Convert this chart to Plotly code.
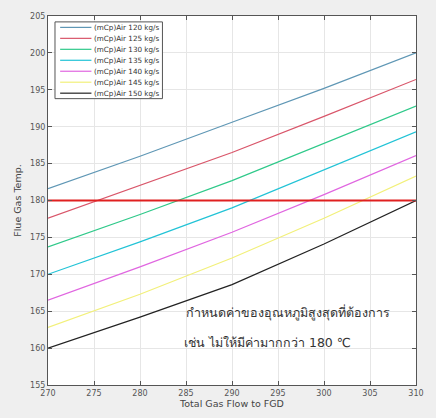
import plotly.graph_objects as go

flow = [270, 280, 290, 300, 310]
labels = ["(mCp)Air 120 kg/s", "(mCp)Air 125 kg/s", "(mCp)Air 130 kg/s",
          "(mCp)Air 135 kg/s", "(mCp)Air 140 kg/s", "(mCp)Air 145 kg/s",
          "(mCp)Air 150 kg/s"]
temps = [
    [181.6, 186.0, 190.6, 195.2, 200.0],
    [177.6, 182.0, 186.5, 191.4, 196.4],
    [173.7, 178.1, 182.7, 187.7, 192.8],
    [170.0, 174.4, 179.0, 184.1, 189.3],
    [166.5, 171.0, 175.7, 180.8, 186.1],
    [162.8, 167.3, 172.2, 177.6, 183.3],
    [160.0, 164.2, 168.6, 174.1, 180.0],
]
colors = ["#5f97b5", "#d9566a", "#2fc98a", "#22c3d6", "#e066e0", "#f2f07a", "#222222"]
limit = [180, 180]
limit_x = [270, 310]
xticks = list(range(270, 311, 5))
yticks = list(range(155, 206, 5))

fig = go.Figure()
for lab, t, c in zip(labels, temps, colors):
    fig.add_trace(go.Scatter(x=flow, y=t, mode="lines", name=lab, showlegend=False,
                             line=dict(color=c, width=1.2)))
fig.add_trace(go.Scatter(x=limit_x, y=limit, mode="lines", showlegend=False,
                         line=dict(color="#e02020", width=1.8)))

# compact MATLAB-like legend
lx0, lx1, ly0, ly1 = 0.019, 0.311, 0.776, 0.984
fig.add_shape(type="rect", xref="paper", yref="paper", x0=lx0, x1=lx1, y0=ly0, y1=ly1,
              fillcolor="white", line=dict(color="#555555", width=1), layer="above")
step = (ly1 - ly0) / len(labels)
for i, (lab, c) in enumerate(zip(labels, colors)):
    yy = ly1 - step * (i + 0.5)
    fig.add_shape(type="line", xref="paper", yref="paper", x0=0.033, x1=0.118,
                  y0=yy, y1=yy, line=dict(color=c, width=1.2), layer="above")
    fig.add_annotation(x=0.12, y=yy, xref="paper", yref="paper", xanchor="left",
                       yanchor="middle", showarrow=False, text=lab,
                       font=dict(size=7.2, color="#333333"))

fig.add_annotation(x=0.37, y=0.197, xref="paper", yref="paper", xanchor="left",
                   yanchor="middle", showarrow=False,
                   text="กำหนดค่าของอุณหภูมิสูงสุดที่ต้องการ",
                   font=dict(size=12.5, color="#333333"))
fig.add_annotation(x=0.365, y=0.114, xref="paper", yref="paper", xanchor="left",
                   yanchor="middle", showarrow=False,
                   text="เช่น ไม่ให้มีค่ามากกว่า 180 ℃",
                   font=dict(size=12.5, color="#333333"))

axis_common = dict(showgrid=True, gridcolor="#e6e6e6", gridwidth=1,
                   showline=True, linecolor="#555555", linewidth=1, mirror="ticks",
                   ticks="inside", ticklen=4, tickcolor="#555555",
                   tickfont=dict(size=8, color="#555555"), zeroline=False)

fig.update_layout(
    width=436, height=418,
    margin=dict(l=48, r=12, t=14, b=33),
    paper_bgcolor="#efefef", plot_bgcolor="white",
    font=dict(family="DejaVu Sans, Noto Sans, sans-serif"),
    xaxis=dict(range=[270, 310], tickvals=xticks,
               title=dict(text="Total Gas Flow to FGD", font=dict(size=9.5, color="#444444"), standoff=2),
               **axis_common),
    yaxis=dict(range=[155, 205], tickvals=yticks,
               title=dict(text="Flue Gas Temp.", font=dict(size=9.5, color="#444444"), standoff=6),
               **axis_common),
    showlegend=False,
)
fig.write_html("out.html")
